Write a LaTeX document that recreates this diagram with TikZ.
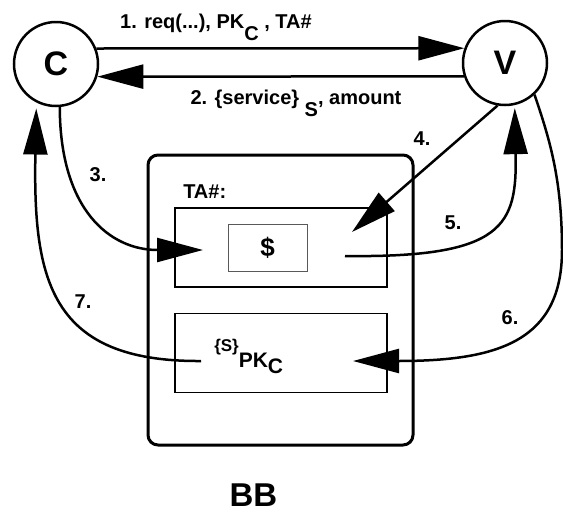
\documentclass[tikz,border=0pt]{standalone}
\usepackage{fontspec}
\setmainfont{Liberation Sans}
\usetikzlibrary{arrows.meta}
\newcommand{\lowr}[1]{\raisebox{-12pt}{#1}}
\begin{document}
\begin{tikzpicture}[x=1pt, y=-1pt, >={Triangle[length=46pt,width=24pt]}, line width=2.5pt,
    font=\bfseries\fontsize{20}{24}\selectfont,
    party/.style={circle, draw, minimum size=84pt, inner sep=0pt, font=\bfseries\fontsize{34}{40}\selectfont},
    slot/.style={draw, line width=1.8pt, minimum width=212pt, minimum height=79pt}]
    \useasboundingbox (0,0) rectangle (563,512);
    \node[party] (C) at (56,64) {C};
    \node[party] (V) at (505,63) {V};
    \node[draw, line width=3pt, rounded corners=10pt, minimum width=265pt, minimum height=290pt] (bb) at (280.5,300) {};
    \node[slot] (purse) at (281,247.5) {};
    \node[slot] (sigbox) at (281,353) {};
    \node[draw=gray!70!black, line width=1pt, minimum width=79pt, minimum height=47pt, font=\bfseries\fontsize{26}{30}\selectfont] (dollar) at (267.5,247.5) {\$};
    \node[anchor=base west, inner sep=0pt] (ta) at (182,198) {TA\#:};
    \node[anchor=base west, inner sep=0pt, font=\bfseries\fontsize{21}{24}\selectfont] (sig) at (213,367) {\raisebox{16pt}{\fontsize{17}{18}\selectfont\{S\}}PK\raisebox{-6pt}{C}};
    \node[anchor=base, inner sep=0pt, font=\bfseries\fontsize{33}{40}\selectfont] (bbname) at (253.5,506) {BB};
    
    \node[anchor=base] (m1) at (216,28) {1. req(...), PK\lowr{C} , TA\#};
    \node[anchor=base] (m2) at (296,104) {2. \{service\} \lowr{S}, amount};
    \foreach \n/\x/\y in {3/98/175, 4/422/139, 5/453/223, 6/510/318, 7/83/302}
    {
        \node (lab\n) at (\x,\y) {\n.};
    }
    
    \coordinate (in3) at (203,250);
    \coordinate (in4) at (352,232);
    \coordinate (out5) at (345,256);
    \coordinate (in6) at (353,361);
    \coordinate (out7) at (201,361);
    
    \draw [->] (C.21) -- (V.160);
    \draw [->] (V.198) -- (C.343);
    \draw [->] (C.275) .. controls (60,210) and (110,250) .. (in3);
    \draw [->] (V.260) -- (in4);
    \draw [->, shorten >=3pt] (out5) .. controls (505,258) and (517,225) .. (V.283);
    \draw [->] (V.313) .. controls (550,140) and (562,180) .. (562,250) .. controls (562,340) and (500,361) .. (in6);
    \draw [->, shorten >=6pt] (out7) .. controls (50,362) and (33,280) .. (C.243);
\end{tikzpicture}
\end{document}
